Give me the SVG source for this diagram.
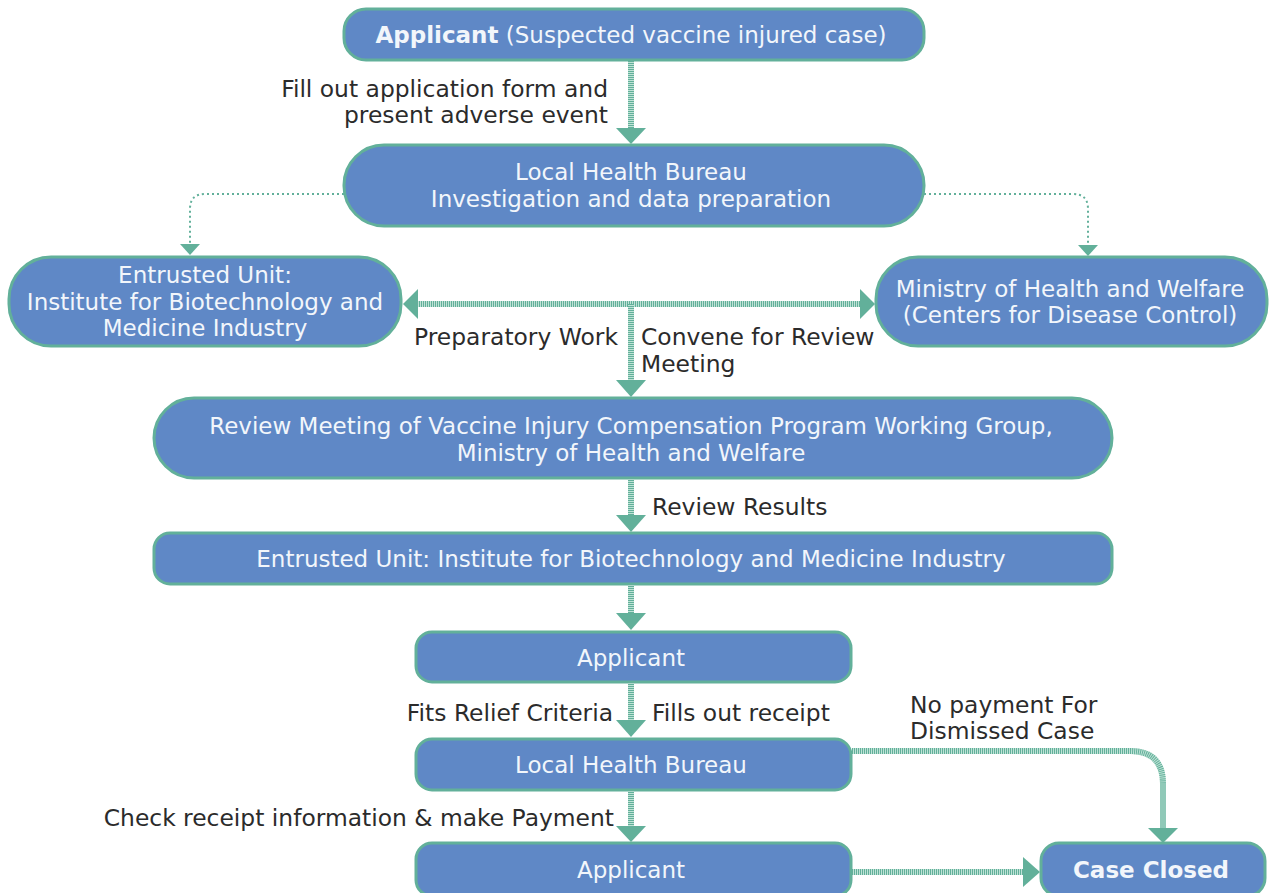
<svg xmlns="http://www.w3.org/2000/svg" width="1272" height="893" viewBox="0 0 1272 893">
<style>
.node{fill:#5f88c6;stroke:#62b09a;stroke-width:3}
.nt{font-family:"DejaVu Sans",sans-serif;font-size:23px;fill:#f2f6fb;text-anchor:middle}
.lb{font-family:"DejaVu Sans",sans-serif;font-size:23.4px;fill:#2b2b2b}
.thick{fill:none;stroke:#62b09a;stroke-width:6;stroke-dasharray:1 1}
.bg{fill:none;stroke:#bfe2d6;stroke-width:6}
.thin{fill:none;stroke:#62b09a;stroke-width:2;stroke-dasharray:2 3}
.ah{fill:#62b09a}
</style>
<defs>
<path id="c1" d="M631 61 V129"/>
<path id="c2" d="M417 304 H861"/>
<path id="c3" d="M631 304 V381"/>
<path id="c4" d="M631 480 V516"/>
<path id="c5" d="M631 586 V614"/>
<path id="c6" d="M631 684 V721"/>
<path id="c7" d="M631 792 V827"/>
<path id="c8" d="M852 751 H1130 Q1163 751 1163 784 V829"/>
<path id="c9" d="M852 872 H1024"/>
</defs>
<rect width="1272" height="893" fill="#ffffff"/>
<g id="connectors">
<use href="#c1" class="bg"/><use href="#c1" class="thick"/>
<polygon class="ah" points="616,128 646,128 631,144"/>
<path class="thin" d="M344 194 H205 Q190 194 190 209 V244"/>
<polygon class="ah" points="180,244 200,244 190,255"/>
<path class="thin" d="M924 194 H1073 Q1088 194 1088 209 V245"/>
<polygon class="ah" points="1078,245 1098,245 1088,256"/>
<use href="#c2" class="bg"/><use href="#c2" class="thick"/>
<polygon class="ah" points="418,289 418,319 403,304"/>
<polygon class="ah" points="860,289 860,319 875,304"/>
<use href="#c3" class="bg"/><use href="#c3" class="thick"/>
<polygon class="ah" points="616,380 646,380 631,397"/>
<use href="#c4" class="bg"/><use href="#c4" class="thick"/>
<polygon class="ah" points="616,515 646,515 631,532"/>
<use href="#c5" class="bg"/><use href="#c5" class="thick"/>
<polygon class="ah" points="616,613 646,613 631,630"/>
<use href="#c6" class="bg"/><use href="#c6" class="thick"/>
<polygon class="ah" points="616,720 646,720 631,737"/>
<use href="#c7" class="bg"/><use href="#c7" class="thick"/>
<polygon class="ah" points="616,826 646,826 631,842"/>
<use href="#c8" class="bg"/><use href="#c8" class="thick"/>
<polygon class="ah" points="1148,828 1178,828 1163,843"/>
<use href="#c9" class="bg"/><use href="#c9" class="thick"/>
<polygon class="ah" points="1023,857 1023,887 1040,872"/>
</g>
<g id="n1">
<rect class="node" x="344" y="9" width="580" height="51" rx="22"/>
<text class="nt" x="631" y="43"><tspan font-weight="bold">Applicant</tspan> (Suspected vaccine injured case)</text>
</g>
<g id="l1">
<text class="lb" x="608" y="97" text-anchor="end">Fill out application form and</text>
<text class="lb" x="608" y="123" text-anchor="end">present adverse event</text>
</g>
<g id="n2">
<rect class="node" x="344" y="145" width="580" height="81" rx="40"/>
<text class="nt" x="631" y="180">Local Health Bureau</text>
<text class="nt" x="631" y="207">Investigation and data preparation</text>
</g>
<g id="n3">
<rect class="node" x="9" y="257" width="392" height="89" rx="42"/>
<text class="nt" x="205" y="283">Entrusted Unit:</text>
<text class="nt" x="205" y="310">Institute for Biotechnology and</text>
<text class="nt" x="205" y="336">Medicine Industry</text>
</g>
<g id="n4">
<rect class="node" x="876" y="257" width="391" height="89" rx="42"/>
<text class="nt" x="1070" y="297">Ministry of Health and Welfare</text>
<text class="nt" x="1070" y="323">(Centers for Disease Control)</text>
</g>
<g id="l2">
<text class="lb" x="618" y="345" text-anchor="end">Preparatory Work</text>
<text class="lb" x="641" y="345">Convene for Review</text>
<text class="lb" x="641" y="372">Meeting</text>
</g>
<g id="n5">
<rect class="node" x="154" y="398" width="958" height="80" rx="40"/>
<text class="nt" x="631" y="434" font-size="22.7">Review Meeting of Vaccine Injury Compensation Program Working Group,</text>
<text class="nt" x="631" y="461">Ministry of Health and Welfare</text>
</g>
<g id="l3">
<text class="lb" x="652" y="515">Review Results</text>
</g>
<g id="n6">
<rect class="node" x="154" y="533" width="958" height="51" rx="16"/>
<text class="nt" x="631" y="567" font-size="22.7">Entrusted Unit: Institute for Biotechnology and Medicine Industry</text>
</g>
<g id="n7">
<rect class="node" x="416" y="632" width="435" height="50" rx="16"/>
<text class="nt" x="631" y="666">Applicant</text>
</g>
<g id="l4">
<text class="lb" x="613" y="721" text-anchor="end">Fits Relief Criteria</text>
<text class="lb" x="652" y="721">Fills out receipt</text>
<text class="lb" x="910" y="713">No payment For</text>
<text class="lb" x="910" y="739">Dismissed Case</text>
</g>
<g id="n8">
<rect class="node" x="416" y="739" width="435" height="51" rx="16"/>
<text class="nt" x="631" y="773">Local Health Bureau</text>
</g>
<g id="l5">
<text class="lb" x="614" y="826" text-anchor="end">Check receipt information &amp; make Payment</text>
</g>
<g id="n9">
<rect class="node" x="416" y="843" width="435" height="53" rx="16"/>
<text class="nt" x="631" y="878">Applicant</text>
</g>
<g id="n10">
<rect class="node" x="1041" y="843" width="224" height="53" rx="18"/>
<text class="nt" x="1151" y="878" font-weight="bold" font-size="22">Case Closed</text>
</g>
</svg>
